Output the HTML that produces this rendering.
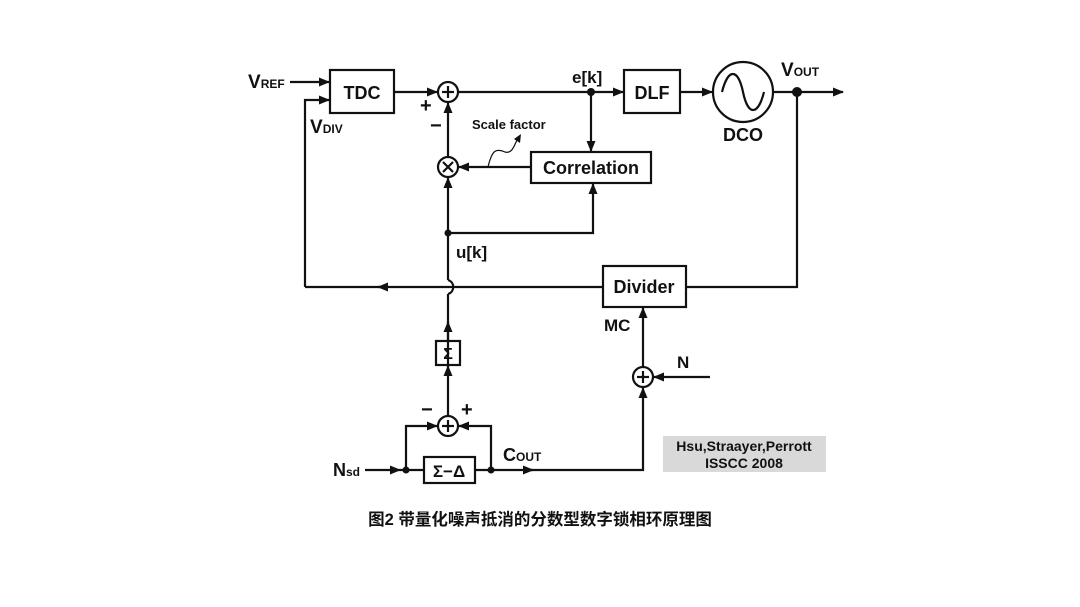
<!DOCTYPE html>
<html><head><meta charset="utf-8"><style>
html,body{margin:0;padding:0;background:#fff;}
svg{display:block;}
text{font-family:"Liberation Sans",Arial,sans-serif;font-weight:bold;fill:#111;}
</style></head><body>
<svg width="1080" height="607" viewBox="0 0 1080 607" xmlns="http://www.w3.org/2000/svg">
<defs>
<marker id="a" markerWidth="11" markerHeight="9" refX="10" refY="4.5" orient="auto" markerUnits="userSpaceOnUse">
<path d="M0,0 L11,4.5 L0,9 z" fill="#111"/></marker>
</defs>
<g stroke="#111" stroke-width="2.2" fill="none">
<rect x="330" y="70" width="64" height="43"/>
<line x1="290" y1="82" x2="329" y2="82" marker-end="url(#a)"/>
<polyline points="305,287 305,100 329,100" marker-end="url(#a)"/>
<line x1="394" y1="92" x2="437" y2="92" marker-end="url(#a)"/>
<circle cx="448" cy="92" r="10"/>
<line x1="448" y1="86" x2="448" y2="98"/><line x1="442" y1="92" x2="454" y2="92"/>
<line x1="458" y1="92" x2="623" y2="92" marker-end="url(#a)"/>
<rect x="624" y="70" width="56" height="43"/>
<line x1="680" y1="92" x2="712" y2="92" marker-end="url(#a)"/>
<circle cx="743" cy="92" r="30"/>
<path d="M722,92 C728,68 738,68 743,92 C748,116 758,116 764,92"/>
<line x1="773" y1="92" x2="843" y2="92" marker-end="url(#a)"/>
<line x1="591" y1="92" x2="591" y2="151" marker-end="url(#a)"/>
<rect x="531" y="152" width="120" height="31"/>
<line x1="531" y1="167" x2="459" y2="167" marker-end="url(#a)"/>
<circle cx="448" cy="167" r="10"/>
<line x1="443" y1="162" x2="453" y2="172"/><line x1="453" y1="162" x2="443" y2="172"/>
<line x1="448" y1="157" x2="448" y2="103" marker-end="url(#a)"/>
<path d="M488,167 C492,150 496,148 505,152 C512,154 514,146 517,140" stroke-width="1.2"/>
<path d="M514,139 L521,134 L520,143 z" fill="#111" stroke="none"/>
<polyline points="448,233 593,233 593,184" marker-end="url(#a)"/>
<line x1="448" y1="280" x2="448" y2="178" marker-end="url(#a)"/>
<path d="M448,280 C455,282 455,292 448,294"/>
<line x1="448" y1="294" x2="448" y2="340"/>
<polyline points="797,92 797,287 686,287"/>
<rect x="603" y="266" width="83" height="41"/>
<line x1="603" y1="287" x2="378" y2="287" marker-end="url(#a)"/>
<line x1="385" y1="287" x2="305" y2="287"/>
<rect x="436" y="341" width="24" height="24"/>
<line x1="448" y1="365" x2="448" y2="322" marker-end="url(#a)"/>
<line x1="448" y1="416" x2="448" y2="366" marker-end="url(#a)"/>
<circle cx="448" cy="426" r="10"/>
<line x1="448" y1="420" x2="448" y2="432"/><line x1="442" y1="426" x2="454" y2="426"/>
<polyline points="406,470 406,426 437,426" marker-end="url(#a)"/>
<polyline points="491,470 491,426 459,426" marker-end="url(#a)"/>
<line x1="365" y1="470" x2="400" y2="470" marker-end="url(#a)"/>
<line x1="400" y1="470" x2="424" y2="470"/>
<rect x="424" y="457" width="51" height="26"/>
<line x1="475" y1="470" x2="533" y2="470" marker-end="url(#a)"/>
<polyline points="530,470 643,470 643,388" marker-end="url(#a)"/>
<circle cx="643" cy="377" r="10"/>
<line x1="643" y1="371" x2="643" y2="383"/><line x1="637" y1="377" x2="649" y2="377"/>
<line x1="710" y1="377" x2="654" y2="377" marker-end="url(#a)"/>
<line x1="643" y1="367" x2="643" y2="308" marker-end="url(#a)"/>
</g>
<g fill="#111">
<circle cx="591" cy="92" r="4"/><circle cx="797" cy="92" r="5"/>
<circle cx="448" cy="233" r="3.5"/><circle cx="406" cy="470" r="3.5"/><circle cx="491" cy="470" r="3.5"/>
</g>
<rect x="663" y="436" width="163" height="36" fill="#d9d9d9"/>
<text x="248" y="88" font-size="19">V<tspan font-size="12">REF</tspan></text>
<text x="310" y="133" font-size="19">V<tspan font-size="12">DIV</tspan></text>
<text x="362" y="99" font-size="18" text-anchor="middle">TDC</text>
<text x="420" y="112" font-size="20">+</text>
<text x="430" y="132" font-size="20">−</text>
<text x="472" y="129" font-size="13">Scale factor</text>
<text x="572" y="83" font-size="17">e[k]</text>
<text x="652" y="99" font-size="18" text-anchor="middle">DLF</text>
<text x="743" y="141" font-size="18" text-anchor="middle">DCO</text>
<text x="781" y="76" font-size="19">V<tspan font-size="12">OUT</tspan></text>
<text x="591" y="174" font-size="18" text-anchor="middle">Correlation</text>
<text x="456" y="258" font-size="17">u[k]</text>
<text x="644" y="293" font-size="18" text-anchor="middle">Divider</text>
<text x="604" y="331" font-size="17">MC</text>
<text x="677" y="368" font-size="17">N</text>
<text x="448" y="359" font-size="16" text-anchor="middle" font-weight="normal">Σ</text>
<text x="421" y="416" font-size="20">−</text>
<text x="461" y="416" font-size="20">+</text>
<text x="449" y="477" font-size="17" text-anchor="middle" font-weight="normal">Σ−Δ</text>
<text x="333" y="476" font-size="18">N<tspan font-size="12">sd</tspan></text>
<text x="503" y="461" font-size="18">C<tspan font-size="12">OUT</tspan></text>
<text x="744" y="451" font-size="14" text-anchor="middle">Hsu,Straayer,Perrott</text>
<text x="744" y="468" font-size="14" text-anchor="middle">ISSCC 2008</text>
<text x="540" y="525" font-size="16.5" text-anchor="middle" style="font-family:'Liberation Sans','Noto Sans CJK SC',sans-serif">图2 带量化噪声抵消的分数型数字锁相环原理图</text>
</svg>
</body></html>
